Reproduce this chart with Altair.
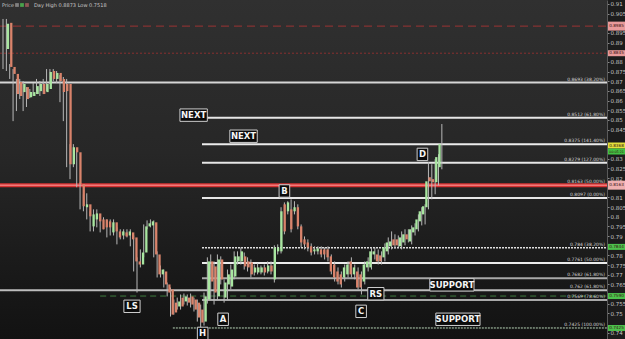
import altair as alt
import pandas as pd

# ---------------- data ----------------
opens = [0.8867, 0.9002, 0.8774, 0.8738, 0.8696, 0.8644, 0.8670, 0.8618, 0.8624, 0.8634,
         0.8649, 0.8686, 0.8644, 0.8660, 0.8753, 0.8712, 0.8743, 0.8712, 0.8686, 0.8686,
         0.8271, 0.8359, 0.8333, 0.8168, 0.8049, 0.8064, 0.7950, 0.7986, 0.8017, 0.7986,
         0.7986, 0.7976, 0.7919, 0.7971, 0.7924, 0.7903, 0.7919, 0.7903, 0.7919, 0.7893,
         0.7769, 0.7753, 0.7815, 0.7950, 0.7955, 0.7971, 0.7805, 0.7702, 0.7717, 0.7650,
         0.7624, 0.7556, 0.7536, 0.7582, 0.7562, 0.7582, 0.7588, 0.7572, 0.7556, 0.7520,
         0.7458, 0.7572, 0.7769, 0.7743, 0.7588, 0.7779, 0.7582, 0.7650, 0.7639, 0.7691,
         0.7769, 0.7769, 0.7795, 0.7769, 0.7764, 0.7712, 0.7712, 0.7712, 0.7738, 0.7717,
         0.7748, 0.7676, 0.7821, 0.7821, 0.8064, 0.8028, 0.8038, 0.8028, 0.8049, 0.7950,
         0.7883, 0.7867, 0.7847, 0.7821, 0.7821, 0.7831, 0.7831, 0.7831, 0.7795, 0.7753,
         0.7717, 0.7702, 0.7686, 0.7702, 0.7769, 0.7702, 0.7717, 0.7702, 0.7665, 0.7738,
         0.7738, 0.7805, 0.7805, 0.7800, 0.7790, 0.7821, 0.7847, 0.7883, 0.7883, 0.7847,
         0.7867, 0.7909, 0.7872, 0.7919, 0.7935, 0.7976, 0.8012, 0.8049, 0.8204, 0.8194,
         0.8178, 0.8256]
highs = [0.9022, 0.9022, 0.8789, 0.8763, 0.8712, 0.8712, 0.8701, 0.8670, 0.8660, 0.8691,
         0.8712, 0.8701, 0.8712, 0.8763, 0.8763, 0.8763, 0.8753, 0.8732, 0.8722, 0.8712,
         0.8375, 0.8375, 0.8349, 0.8178, 0.8116, 0.8121, 0.8028, 0.8038, 0.8038, 0.8012,
         0.7997, 0.7986, 0.7986, 0.7986, 0.7945, 0.7935, 0.7935, 0.7935, 0.7935, 0.7903,
         0.7790, 0.7831, 0.7960, 0.7981, 0.7986, 0.7981, 0.7821, 0.7748, 0.7727, 0.7660,
         0.7634, 0.7572, 0.7582, 0.7598, 0.7603, 0.7598, 0.7603, 0.7582, 0.7572, 0.7546,
         0.7608, 0.7790, 0.7805, 0.7769, 0.7805, 0.7795, 0.7676, 0.7727, 0.7753, 0.7821,
         0.7821, 0.7841, 0.7815, 0.7790, 0.7779, 0.7753, 0.7759, 0.7748, 0.7753, 0.7769,
         0.7769, 0.7852, 0.7857, 0.8049, 0.8074, 0.8080, 0.8090, 0.8080, 0.8064, 0.7960,
         0.7898, 0.7883, 0.7862, 0.7847, 0.7847, 0.7847, 0.7841, 0.7847, 0.7805, 0.7769,
         0.7738, 0.7717, 0.7753, 0.7769, 0.7790, 0.7753, 0.7738, 0.7717, 0.7769, 0.7790,
         0.7841, 0.7841, 0.7831, 0.7821, 0.7862, 0.7893, 0.7924, 0.7909, 0.7903, 0.7924,
         0.7935, 0.7935, 0.7955, 0.7966, 0.8012, 0.8049, 0.8064, 0.8282, 0.8271, 0.8297,
         0.8323, 0.8479]
lows = [0.8763, 0.8753, 0.8712, 0.8494, 0.8546, 0.8608, 0.8546, 0.8567, 0.8613, 0.8624,
        0.8634, 0.8624, 0.8634, 0.8649, 0.8686, 0.8701, 0.8691, 0.8592, 0.8494, 0.8256,
        0.8194, 0.8256, 0.8152, 0.8038, 0.8028, 0.7986, 0.7924, 0.7924, 0.7945, 0.7919,
        0.7935, 0.7893, 0.7903, 0.7903, 0.7857, 0.7883, 0.7883, 0.7893, 0.7847, 0.7717,
        0.7608, 0.7738, 0.7790, 0.7935, 0.7945, 0.7790, 0.7686, 0.7686, 0.7634, 0.7588,
        0.7484, 0.7494, 0.7520, 0.7520, 0.7546, 0.7541, 0.7531, 0.7510, 0.7458, 0.7418,
        0.7437, 0.7551, 0.7572, 0.7546, 0.7572, 0.7650, 0.7556, 0.7572, 0.7624, 0.7676,
        0.7753, 0.7753, 0.7727, 0.7717, 0.7686, 0.7696, 0.7702, 0.7702, 0.7696, 0.7707,
        0.7702, 0.7660, 0.7805, 0.7810, 0.7909, 0.8012, 0.7919, 0.8012, 0.7935, 0.7841,
        0.7831, 0.7821, 0.7800, 0.7805, 0.7805, 0.7790, 0.7779, 0.7769, 0.7702, 0.7665,
        0.7650, 0.7634, 0.7665, 0.7686, 0.7686, 0.7676, 0.7624, 0.7598, 0.7650, 0.7717,
        0.7727, 0.7779, 0.7753, 0.7753, 0.7769, 0.7805, 0.7831, 0.7836, 0.7841, 0.7831,
        0.7852, 0.7867, 0.7857, 0.7903, 0.7924, 0.7955, 0.7960, 0.8038, 0.8090, 0.8116,
        0.8162, 0.8245]
closes = [0.8997, 0.8774, 0.8738, 0.8634, 0.8624, 0.8686, 0.8608, 0.8644, 0.8644, 0.8675,
          0.8686, 0.8634, 0.8686, 0.8748, 0.8712, 0.8743, 0.8701, 0.8644, 0.8649, 0.8271,
          0.8359, 0.8333, 0.8168, 0.8054, 0.8064, 0.8002, 0.8012, 0.8017, 0.7976, 0.7935,
          0.7945, 0.7945, 0.7971, 0.7924, 0.7893, 0.7924, 0.7898, 0.7924, 0.7883, 0.7769,
          0.7753, 0.7815, 0.7950, 0.7966, 0.7976, 0.7805, 0.7702, 0.7727, 0.7650, 0.7608,
          0.7494, 0.7505, 0.7562, 0.7536, 0.7588, 0.7556, 0.7546, 0.7520, 0.7479, 0.7453,
          0.7588, 0.7769, 0.7665, 0.7608, 0.7779, 0.7676, 0.7660, 0.7702, 0.7727, 0.7795,
          0.7795, 0.7821, 0.7743, 0.7738, 0.7702, 0.7738, 0.7738, 0.7738, 0.7712, 0.7748,
          0.7717, 0.7841, 0.7841, 0.8028, 0.7924, 0.8074, 0.7935, 0.8049, 0.7950, 0.7867,
          0.7857, 0.7841, 0.7815, 0.7831, 0.7836, 0.7805, 0.7805, 0.7790, 0.7717, 0.7686,
          0.7665, 0.7650, 0.7738, 0.7753, 0.7702, 0.7738, 0.7634, 0.7634, 0.7753, 0.7769,
          0.7821, 0.7821, 0.7769, 0.7769, 0.7841, 0.7867, 0.7872, 0.7852, 0.7852, 0.7893,
          0.7909, 0.7883, 0.7935, 0.7945, 0.7986, 0.8028, 0.8054, 0.8183, 0.8183, 0.8178,
          0.8308, 0.8375]

# horizontal levels: price, first bar index, colour, width, dash, right-side label
level_prices = [0.8985, 0.8845, 0.8693, 0.8512, 0.8375, 0.8279, 0.8163, 0.8097,
                0.7840, 0.7761, 0.7682, 0.7620, 0.7590, 0.7569, 0.7425]
level_start = [-0.9, -0.9, -0.9, 60.6, 59.4, 59.4, -0.9, 59.4,
               59.4, 59.4, 59.4, -0.9, 29.0, 59.4, 50.7]
level_color = ["#9c3434", "#8a3030", "#d6d6d6", "#e6e6e6", "#ececec", "#e6e6e6", "#d63232", "#e6e6e6",
               "#e0e0e0", "#ececec", "#a9a9a9", "#bdbdbd", "#3f7d3f", "#a9a9a9", "#b9d6b9"]
level_width = [1, 1, 2, 2, 2, 2, 4, 2, 1.5, 2, 2, 2, 1, 2, 1]
level_dash = [[8, 5], [2, 2], [], [], [], [], [], [], [2, 1], [], [], [], [6, 4], [], [2, 1]]
level_text = ["", "", "0.8693 (38.20%)", "0.8512 (61.80%)", "0.8375 (141.40%)", "0.8279 (127.00%)",
              "0.8163 (50.00%)", "0.8097 (0.00%)", "0.784 (38.20%)", "0.7761 (50.00%)",
              "0.7682 (61.80%)", "0.762 (61.80%)", "", "0.7569 (78.60%)", "0.7425 (100.00%)"]

# pattern annotations: text, bar index, price
note_text = ["NEXT", "NEXT", "B", "D", "LS", "H", "A", "C", "RS", "SUPPORT", "SUPPORT"]
note_bar = [56.9, 71.8, 84.0, 125.2, 38.5, 59.6, 65.7, 106.9, 111.3, 134.0, 135.8]
note_price = [0.8525, 0.8416, 0.8133, 0.8322, 0.7537, 0.7397, 0.7470, 0.7511, 0.7602, 0.7648, 0.7470]

# price tags on the right axis
tag_price = [0.8985, 0.8845, 0.8368, 0.8337, 0.8163, 0.7844, 0.7590, 0.7425]
tag_text = ["0.8985", "0.8845", "0.8368", "00:05:21", "0.8163", "0.7844", "0.7590", "0.7425"]
tag_fill = ["#e89a9a", "#e89a9a", "#e2e03c", "#43c043", "#efb0b0", "#4cc24c", "#4cc24c", "#4cc24c"]
tag_h = [9, 6, 6, 6, 9, 6, 6, 6]
tag_size = [4.2, 4.2, 4.2, 3.3, 4.2, 4.2, 4.2, 4.2]

# axis labels that are not hidden behind a price tag
tick_values = [0.74, 0.75, 0.755, 0.765, 0.77, 0.775, 0.78, 0.79, 0.795,
               0.8, 0.805, 0.81, 0.82, 0.825, 0.83, 0.845, 0.85, 0.855,
               0.86, 0.865, 0.87, 0.875, 0.88, 0.89, 0.895, 0.905, 0.91]

# ---------------- scales ----------------
W, H = 607, 339
X_DOM = [-0.9, 180.3]
Y_DOM = [0.7368, 0.9120]
PX_X = W / (X_DOM[1] - X_DOM[0])
PX_Y = H / (Y_DOM[1] - Y_DOM[0])

xs = alt.Scale(domain=X_DOM, nice=False, zero=False)
ys = alt.Scale(domain=Y_DOM, nice=False, zero=False)
yax = alt.Axis(orient="right", values=tick_values, format=".3~f", title=None,
               labelFontSize=5.5, labelColor="#c4c4c4", labelFont="DejaVu Sans",
               tickColor="#8a8a8a", tickSize=2, domainColor="#5a5a5a", grid=False,
               labelPadding=1, zindex=0, labelOverlap=False)


def X(f):
    return alt.X(f, type="quantitative", scale=xs, axis=None)


def Y(f):
    return alt.Y(f, type="quantitative", scale=ys, axis=yax)


candles = pd.DataFrame({"i": list(range(len(opens))), "open": opens, "high": highs,
                        "low": lows, "close": closes})
candles["dir"] = ["up" if c >= o else "down" for o, c in zip(opens, closes)]

layers = []

# background gradient
grad = alt.LinearGradient(gradient="linear", x1=0, x2=0, y1=0, y2=1,
                          stops=[alt.GradientStop(color="#303030", offset=0),
                                 alt.GradientStop(color="#272727", offset=0.45),
                                 alt.GradientStop(color="#121212", offset=1)])
layers.append(alt.Chart(pd.DataFrame({"k": [0]})).mark_rect(fill=grad).encode(
    x=alt.value(0), x2=alt.value(W), y=alt.value(0), y2=alt.value(H)))

# level lines
for p, s, c, w, d in zip(level_prices, level_start, level_color, level_width, level_dash):
    df = pd.DataFrame({"price": [p], "s": [s], "e": [X_DOM[1]]})
    kw = dict(color=c, strokeWidth=w)
    if d:
        kw["strokeDash"] = d
    layers.append(alt.Chart(df).mark_rule(**kw).encode(x=X("s"), x2="e:Q", y=Y("price")))
    if p == 0.8163:
        layers.append(alt.Chart(df).mark_rule(color="#ff9c9c", strokeWidth=1).encode(
            x=X("s"), x2="e:Q", y=Y("price")))

lab = pd.DataFrame({"price": level_prices, "t": level_text})
lab = lab[lab["t"] != ""]
layers.append(alt.Chart(lab).mark_text(align="right", baseline="bottom", dy=-1, fontSize=4.5,
                                       font="DejaVu Sans", color="#d4d4d4").encode(
    x=alt.value(605), y=Y("price"), text="t:N"))

# candles
layers.append(alt.Chart(candles).mark_rule(color="#b8b8b8", strokeWidth=1).encode(
    x=X("i"), y=Y("low"), y2="high:Q"))
layers.append(alt.Chart(candles).mark_bar(width=2.3).encode(
    x=X("i"), y=Y("open"), y2="close:Q",
    color=alt.Color("dir:N", scale=alt.Scale(domain=["up", "down"],
                                             range=["#a8e6a0", "#d9836b"]), legend=None)))

# annotation boxes
nw = [len(t) * 5.6 + 5 for t in note_text]
notes = pd.DataFrame({"t": note_text, "i": note_bar, "p": note_price, "w": nw})
notes["x1"] = notes["i"] - notes["w"] / 2 / PX_X
notes["x2"] = notes["i"] + notes["w"] / 2 / PX_X
notes["y1"] = notes["p"] - 6.2 / PX_Y
notes["y2"] = notes["p"] + 6.2 / PX_Y
layers.append(alt.Chart(notes).mark_rect(fill="#0b0b0b", stroke="#cfcfcf", strokeWidth=1).encode(
    x=X("x1"), x2="x2:Q", y=Y("y1"), y2="y2:Q"))
layers.append(alt.Chart(notes).mark_text(fontSize=8.5, font="DejaVu Sans", fontWeight="bold",
                                         color="#f4f4f4", baseline="middle").encode(
    x=X("i"), y=Y("p"), text="t:N"))

# right-axis tags
tags = pd.DataFrame({"p": tag_price, "t": tag_text, "f": tag_fill, "h": tag_h, "s": tag_size})
tags["y1"] = tags["p"] - tags["h"] / 2 / PX_Y
tags["y2"] = tags["p"] + tags["h"] / 2 / PX_Y
layers.append(alt.Chart(tags).mark_rect().encode(
    x=alt.value(608), x2=alt.value(625), y=Y("y1"), y2="y2:Q",
    color=alt.Color("f:N", scale=None)))
layers.append(alt.Chart(tags).mark_text(font="DejaVu Sans", color="#3a1010",
                                        align="center", baseline="middle").encode(
    x=alt.value(616.5), y=Y("p"), text="t:N",
    size=alt.Size("s:Q", scale=None, legend=None)))

# header
hdr = pd.DataFrame({"t": ["Price", "Day High 0.8873  Low 0.7518"], "x": [2, 34]})
layers.append(alt.Chart(hdr).mark_text(fontSize=5, font="DejaVu Sans", color="#c8c8c8",
                                       align="left", baseline="middle").encode(
    x=alt.X("x:Q", scale=alt.Scale(domain=[0, W], nice=False, zero=False), axis=None),
    y=alt.value(5), text="t:N"))
icons = pd.DataFrame({"x": [17, 22, 27], "c": ["#8a8a8a", "#4caf50", "#9a5a5a"]})
layers.append(alt.Chart(icons).mark_square(size=14, opacity=0.9).encode(
    x=alt.X("x:Q", scale=alt.Scale(domain=[0, W], nice=False, zero=False), axis=None),
    y=alt.value(5), color=alt.Color("c:N", scale=None)))

chart = alt.layer(*layers).resolve_scale(x="independent").properties(
    width=W, height=H,
    padding={"left": 0, "top": 0, "right": 18, "bottom": 0},
    autosize=alt.AutoSizeParams(type="none"),
).configure(background="#1c1c1c").configure_view(stroke=None)

chart.save("out.html", embed_options={"renderer": "svg", "actions": False})
